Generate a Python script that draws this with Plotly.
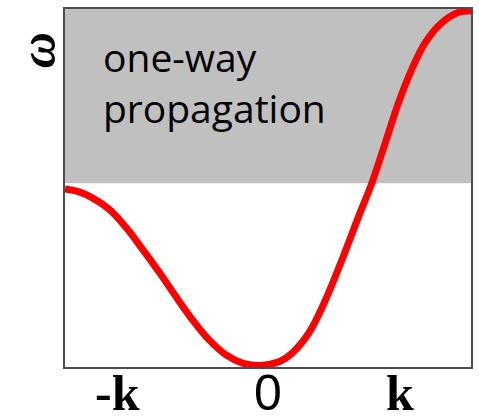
import plotly.graph_objects as go

# dispersion curve (k normalised to [-1, 1], omega to [0, 1])
k_vals = [-1.0, -0.930, -0.861, -0.779, -0.697, -0.616, -0.534, -0.453, -0.371,
          -0.289, -0.207, -0.126, -0.060, 0.005, 0.060, 0.119, 0.201, 0.283,
          0.364, 0.446, 0.511, 0.577, 0.642, 0.707, 0.772, 0.853, 0.936, 1.0]
omega_vals = [0.497, 0.489, 0.471, 0.439, 0.388, 0.327, 0.263, 0.196, 0.131,
              0.075, 0.034, 0.011, 0.004, 0.007, 0.016, 0.039, 0.095, 0.187,
              0.299, 0.420, 0.513, 0.625, 0.737, 0.830, 0.904, 0.960, 0.990, 0.995]

band_threshold = 0.513  # lower edge of the shaded one-way region
tick_positions = [-0.74, 0.0, 0.65]
tick_labels = ["-k", "0", "k"]

fig = go.Figure()
fig.add_trace(go.Scatter(x=k_vals, y=omega_vals, mode="lines",
                         line=dict(color="#ff0000", width=7, shape="spline"),
                         hoverinfo="skip", showlegend=False))

fig.add_shape(type="rect", xref="paper", yref="y", x0=0, x1=1,
              y0=band_threshold, y1=1.011, fillcolor="#c0c0c0",
              line=dict(width=0), layer="below")

fig.add_annotation(x=0.088, y=0.948, xref="paper", yref="paper",
                   text="one-way<br>propagation", showarrow=False,
                   xanchor="left", yanchor="top", align="left",
                   font=dict(family="Open Sans", size=39, color="black"))

fonts = ["Liberation Serif", "Liberation Sans", "Liberation Serif"]
for pos, lab, fam in zip(tick_positions, tick_labels, fonts):
    txt = f"<b>{lab}</b>" if lab != "0" else lab
    fig.add_annotation(x=pos, y=-0.074, xref="x", yref="paper", text=txt,
                       showarrow=False, xanchor="center", yanchor="middle",
                       font=dict(family=fam, size=50, color="black"))

fig.add_annotation(x=-0.066, y=0.885, xref="paper", yref="paper",
                   text="<b><i>ω</i></b>", showarrow=False, textangle=-90,
                   xanchor="center", yanchor="middle",
                   font=dict(family="Liberation Serif", size=50, color="black"))

axis_style = dict(showgrid=False, zeroline=False, showticklabels=False,
                  ticks="", showline=True, linecolor="#4d4d4d", linewidth=2,
                  mirror=True)
fig.update_xaxes(range=[-1, 1], **axis_style)
fig.update_yaxes(range=[0, 1], **axis_style)

fig.update_layout(width=479, height=416,
                  margin=dict(l=65, r=6, t=9, b=49),
                  paper_bgcolor="white", plot_bgcolor="white")

fig.write_html("out.html", config={"displayModeBar": False},
               post_script="document.body.style.margin='0px';"
                           "document.body.style.overflow='hidden';")
